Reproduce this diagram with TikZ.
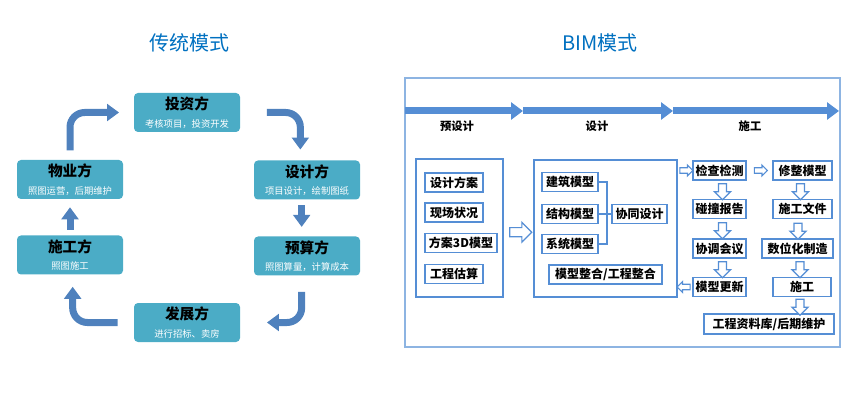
\documentclass[tikz,border=0pt]{standalone}
\usepackage{fontspec}
\newfontfamily\cjk{Noto Sans CJK SC}
\usetikzlibrary{arrows.meta,shapes.arrows,calc}

\definecolor{titleblue}{HTML}{0070C0}
\definecolor{partyteal}{HTML}{4BACC6}
\definecolor{flowblue}{HTML}{4F81BD}
\definecolor{bimblue}{HTML}{558ED5}
\definecolor{frameblue}{HTML}{8DB4E2}

\newcommand\partyname{\bfseries\fontsize{11}{13}\selectfont}
\newcommand\partynote{\color{white}\fontsize{7}{9}\selectfont}

\tikzset{
  partybox/.style={fill=partyteal, rounded corners=3pt, minimum width=79.5pt,
    minimum height=29.25pt, inner sep=0pt, align=center},
  flowarrow/.style={draw=flowblue, line width=5.25pt, rounded corners=11pt,
    -{Triangle[length=9pt,width=12.5pt]}},
  stagearrow/.style={draw=bimblue, line width=5.25pt,
    -{Triangle[length=9pt,width=12.75pt]}},
  bimbox/.style={draw=bimblue, line width=1.1pt, fill=white, inner sep=0pt,
    minimum height=14.25pt, minimum width=#1*0.75pt,
    font=\cjk\bfseries\fontsize{9}{10}\selectfont},
  groupbox/.style={draw=bimblue, line width=1.1pt, inner sep=0pt},
  conn/.style={draw=bimblue, line width=1.1pt},
  hollow/.style n args={3}{single arrow, draw=bimblue, fill=white, line width=0.9pt,
    inner xsep=0pt, inner ysep=#2, minimum height=#1, single arrow head extend=#3},
  downarrow/.style={hollow={12pt}{2.6pt}{3pt}, rotate=-90},
  rightarrow/.style={hollow={9.75pt}{1.6pt}{2pt}},
}

\begin{document}
\begin{tikzpicture}[x=0.75pt,y=0.75pt,yscale=-1,xscale=1,font=\cjk]
    \useasboundingbox (0,0) rectangle (867,413);

    % Text Node
    \node[text=titleblue, font=\cjk\fontsize{15}{18}\selectfont] (tradtitle) at (189,43) {传统模式};
    % Text Node
    \node[text=titleblue, font=\cjk\fontsize{15}{18}\selectfont] (bimtitle) at (600,43) {BIM模式};

    %Traditional cycle
    \node[partybox] (touzi) at (187,112.5) {\partyname 投资方\\[1pt]\partynote 考核项目，投资开发};
    \node[partybox] (sheji) at (307,180) {\partyname 设计方\\[1pt]\partynote 项目设计，绘制图纸};
    \node[partybox] (yusuan) at (307,256) {\partyname 预算方\\[1pt]\partynote 照图算量，计算成本};
    \node[partybox] (fazhan) at (187,322.5) {\partyname 发展方\\[1pt]\partynote 进行招标、卖房};
    \node[partybox] (shigong) at (70,255) {\partyname 施工方\\[1pt]\partynote 照图施工};
    \node[partybox] (wuye) at (70,179.5) {\partyname 物业方\\[1pt]\partynote 照图运营，后期维护};

    \draw[flowarrow, shorten <=7, shorten >=11] (wuye.north) |- (touzi.west);
    \draw[flowarrow, shorten <=20, shorten >=8] (touzi.east) -| ([xshift=-5]sheji.north);
    \draw[flowarrow, shorten <=4, shorten >=7] ([xshift=-4]sheji.south) -- ([xshift=-4]yusuan.north);
    \draw[flowarrow, shorten <=12, shorten >=20] ([xshift=-4]yusuan.south) |- (fazhan.east);
    \draw[flowarrow, shorten <=12, shorten >=9] (fazhan.west) -| ([xshift=2]shigong.south);
    \draw[flowarrow, shorten <=4, shorten >=6] (shigong.north) -- (wuye.south);

    %BIM frame
    \draw[draw=frameblue, line width=1.2pt] (405,78) rectangle (840,347);
    \coordinate (s0) at (405,111);
    \coordinate (s1) at (523,111);
    \coordinate (s2) at (673,111);
    \coordinate (s3) at (839,111);
    \draw[stagearrow] (s0) -- (s1);
    \draw[stagearrow] (s1) -- (s2);
    \draw[stagearrow] (s2) -- (s3);
    \node[font=\cjk\bfseries\fontsize{8.5}{10}\selectfont] (stagepre) at (457,126) {预设计};
    \node[font=\cjk\bfseries\fontsize{8.5}{10}\selectfont] (stagedes) at (597,126) {设计};
    \node[font=\cjk\bfseries\fontsize{8.5}{10}\selectfont] (stagecon) at (750,126) {施工};

    %Pre-design group
    \node[groupbox, minimum width=65.25pt, minimum height=103.5pt] (pre) at (459.5,228) {};
    \node[bimbox=58] (fangan) at (454,182.5) {设计方案};
    \node[bimbox=58] (xianchang) at (454,212.5) {现场状况};
    \node[bimbox=72] (sanwei) at (461,243) {方案3D模型};
    \node[bimbox=58] (gusuan) at (454,274) {工程估算};

    %Design group
    \node[groupbox, minimum width=107.25pt, minimum height=102.75pt] (mid) at (605.5,228.5) {};
    \node[bimbox=56] (jianzhu) at (570,182) {建筑模型};
    \node[bimbox=56] (jiegou) at (570,214) {结构模型};
    \node[bimbox=56] (xitong) at (570,244) {系统模型};
    \node[bimbox=55] (xietong) at (639.5,214) {协同设计};
    \node[bimbox=113] (zhenghe) at (605.5,274.5) {模型整合/工程整合};
    \coordinate (hub) at (607,214);
    \draw[conn] (jianzhu.east) -| (hub);
    \draw[conn] (xitong.east) -| (hub);
    \draw[conn] (jiegou.east) -- (xietong.west);

    \node[hollow={16.5pt}{3pt}{4pt}] (prearrow) at ($(pre.east)!0.5!(mid.west)+(0,4)$) {};

    %Construction columns
    \node[bimbox=53] (jiancha) at (719.5,170.5) {检查检测};
    \node[bimbox=53] (pengzhuang) at (719.5,209) {碰撞报告};
    \node[bimbox=53] (xietiao) at (719.5,248.5) {协调会议};
    \node[bimbox=53] (gengxin) at (719.5,287) {模型更新};
    \node[bimbox=59] (xiuzheng) at (802.5,170.5) {修整模型};
    \node[bimbox=59] (wenjian) at (802.5,209) {施工文件};
    \node[bimbox=71] (zhizao) at (797.5,248.5) {数位化制造};
    \node[bimbox=58] (jianzao) at (802,287) {施工};
    \node[bimbox=130, minimum height=15pt] (ziliao) at (769,324) {工程资料库/后期维护};

    \node[rightarrow] (a1) at ($(mid.east|-jiancha)!0.5!(jiancha.west)$) {};
    \node[rightarrow] (a2) at ($(jiancha.east)!0.5!(xiuzheng.west)$) {};
    \node[rightarrow, rotate=180] (a3) at ($(gengxin.west)!0.5!(mid.east|-gengxin)$) {};
    \node[downarrow] (d1) at ($(jiancha.south)!0.5!(pengzhuang.north)+(3,0)$) {};
    \node[downarrow] (d2) at ($(pengzhuang.south)!0.5!(xietiao.north)+(3,0)$) {};
    \node[downarrow] (d3) at ($(xietiao.south)!0.5!(gengxin.north)+(3,0)$) {};
    \node[downarrow] (d4) at ($(xiuzheng.south)!0.5!(wenjian.north)+(-2,0)$) {};
    \node[downarrow] (d5) at ($(wenjian.south)!0.5!(zhizao.north|-wenjian.south)+(-2,10)$) {};
    \node[downarrow] (d6) at ($(zhizao.south-|jianzao)!0.5!(jianzao.north)+(-2,0)$) {};
    \node[downarrow] (d7) at ($(jianzao.south)!0.5!(jianzao.south|-ziliao.north)+(-2,0)$) {};

\end{tikzpicture}
\end{document}
